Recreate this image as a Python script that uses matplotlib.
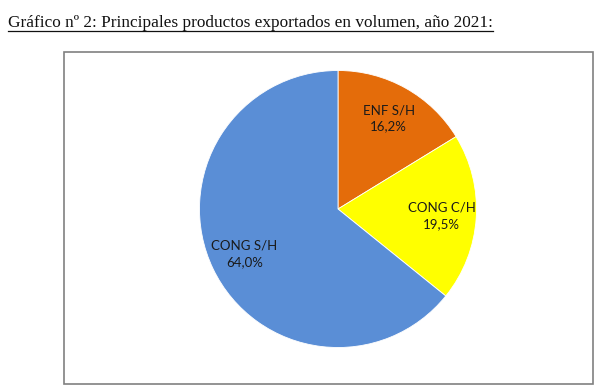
import matplotlib
matplotlib.use("Agg")
import matplotlib.pyplot as plt
from matplotlib.patches import Rectangle
from matplotlib.lines import Line2D

# data
products = ["ENF S/H", "CONG C/H", "CONG S/H"]
shares = [16.2, 19.5, 64.0]
colors = ["#E46C0A", "#FFFF00", "#5A8ED6"]
title = "Gráfico nº 2: Principales productos exportados en volumen, año 2021:"

W, H = 599, 392
fig = plt.figure(figsize=(W / 100, H / 100), dpi=100)

# chart frame
fig.add_artist(Rectangle((64 / W, 1 - 384 / H), (593 - 64) / W, (384 - 52) / H,
                         transform=fig.transFigure, fill=False,
                         edgecolor="#808080", linewidth=1.2))

# title, underlined
base_y = 1 - 27 / H
t = fig.text(8 / W, base_y, title, family="Liberation Serif", fontsize=12.4,
             color="#111111", ha="left", va="baseline")
fig.canvas.draw()
bb = t.get_window_extent().transformed(fig.transFigure.inverted())
ul_y = base_y - 3.5 / H
fig.add_artist(Line2D([bb.x0, bb.x1], [ul_y, ul_y],
                      transform=fig.transFigure, color="#111111", linewidth=0.9))

ax = fig.add_axes([(338 - 138.5) / W, (392 - 347.5) / H, 277 / W, 277 / H])
labels = [f"{p}\n{v:.1f}%".replace(".", ",") for p, v in zip(products, shares)]
wedges, texts = ax.pie(shares, colors=colors, startangle=90, counterclock=False,
                       labels=labels, labeldistance=0.75,
                       wedgeprops=dict(linewidth=0.6, edgecolor="white"),
                       textprops=dict(family="Lato", fontsize=9.5, color="#1a1a1a",
                                      ha="center", va="center", linespacing=1.4))
ax.set_aspect("equal")
ax.set_xlim(-1, 1)
ax.set_ylim(-1, 1)

fig.savefig("out.png", dpi=100)
